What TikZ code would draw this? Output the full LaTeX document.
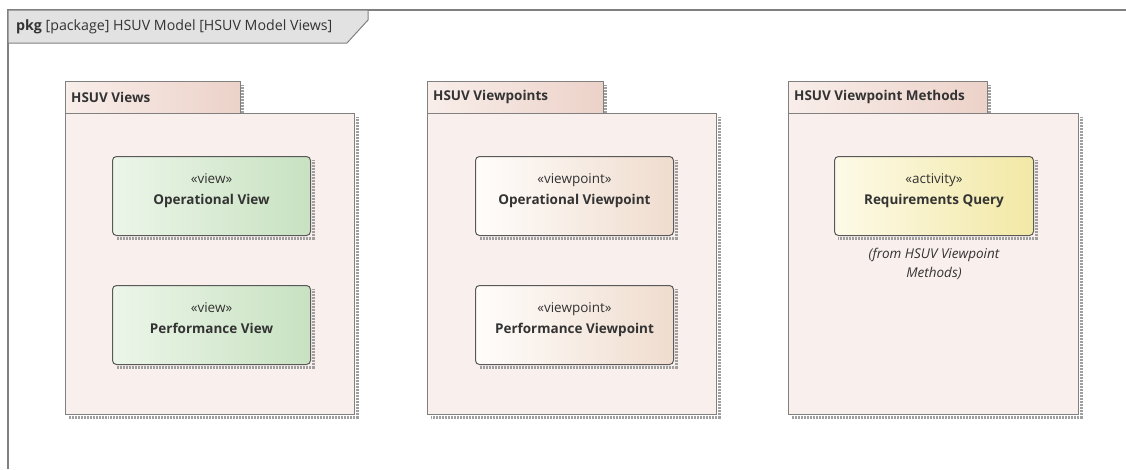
\documentclass[tikz,border=0pt]{standalone}
\usepackage{fontspec}
\setmainfont{Open Sans}
\usepackage{xcolor}
\definecolor{framegray}{RGB}{128,128,128}
\definecolor{tabgray}{RGB}{226,226,226}
\definecolor{pkgfill}{RGB}{249,240,238}
\definecolor{tableft}{RGB}{249,238,234}
\definecolor{tabright}{RGB}{236,210,201}
\definecolor{viewleft}{RGB}{236,245,233}
\definecolor{viewright}{RGB}{200,226,193}
\definecolor{vpleft}{RGB}{255,253,251}
\definecolor{vpright}{RGB}{239,220,206}
\definecolor{actleft}{RGB}{253,250,232}
\definecolor{actright}{RGB}{242,232,165}
\definecolor{inktext}{RGB}{51,51,51}
\usetikzlibrary{positioning}

\begin{document}
\begin{tikzpicture}[x=1pt, y=-1pt,
    font=\fontsize{13.5}{21}\selectfont, text=inktext,
    pkgbody/.style={rectangle, draw=framegray, line width=1pt, fill=pkgfill,
      minimum width=289pt, minimum height=301pt, anchor=north west, inner sep=0pt},
    pkgtab/.style={rectangle, draw=framegray, line width=1pt,
      left color=tableft, right color=tabright, minimum height=32pt,
      anchor=south west, inner sep=0pt, outer sep=0pt},
    pkglabel/.style={anchor=west, font=\fontsize{13.5}{16}\selectfont\bfseries, inner sep=0pt},
    element/.style={rectangle, rounded corners=4pt, draw=black!65, line width=1pt,
      minimum width=198pt, minimum height=79pt, align=center, text depth=13pt,
      anchor=north west},
    view/.style={element, left color=viewleft, right color=viewright},
    viewpt/.style={element, left color=vpleft, right color=vpright},
    activ/.style={element, left color=actleft, right color=actright},
    shadowline/.style={line width=3.5pt, gray!75, dash pattern=on 1pt off 0.5pt}
]
\useasboundingbox (0,0) rectangle (1126,469);

% outer frame
\draw[framegray, line width=1.5pt] (8,469) -- (8,10) -- (1126,10);
\draw[framegray, line width=1pt, fill=tabgray]
  (8,10) -- (368,10) -- (368,20) -- (347,43) -- (8,43) -- cycle;
\node[anchor=west, inner sep=0pt, font=\fontsize{14.2}{17}\selectfont] (title) at (16,27)
  {\textbf{pkg} [package] HSUV Model [HSUV Model Views]};

% packages
\node[pkgbody] (views) at (65,113) {};
\node[pkgbody] (vpts) at (427,113) {};
\node[pkgbody, minimum width=290pt] (meth) at (788,113) {};

\node[pkgtab, minimum width=175pt] (viewstab) at (views.north west) {};
\node[pkgtab, minimum width=176pt] (vptstab) at (vpts.north west) {};
\node[pkgtab, minimum width=199pt] (methtab) at (meth.north west) {};

\node[pkglabel, right=6pt of viewstab.west] {HSUV Views};
\node[pkglabel, right=6pt of vptstab.west] {HSUV Viewpoints};
\node[pkglabel, right=6pt of methtab.west] {HSUV Viewpoint Methods};

% elements
\node[view] (opview) at (112,156) {«view»\\\textbf{Operational View}};
\node[view] (perfview) at (112,285) {«view»\\\textbf{Performance View}};
\node[viewpt] (opvp) at (475,156) {«viewpoint»\\\textbf{Operational Viewpoint}};
\node[viewpt] (perfvp) at (475,285) {«viewpoint»\\\textbf{Performance Viewpoint}};
\node[activ, minimum width=199pt] (reqq) at (834,156) {«activity»\\\textbf{Requirements Query}};
\node[below=9pt of reqq, align=center, font=\fontsize{13.5}{19}\selectfont\itshape]
  (reqfrom) {(from HSUV Viewpoint\\Methods)};

% shadows
\foreach \n in {viewstab, vptstab, methtab}
  \draw[shadowline] ([xshift=2.5pt,yshift=-4pt]\n.north east) -- ([xshift=2.5pt]\n.south east);
\foreach \n in {views, vpts, meth, opview, perfview, opvp, perfvp, reqq}
  \draw[shadowline] ([xshift=2.5pt,yshift=-4pt]\n.north east)
    |- ([xshift=4pt,yshift=-2.5pt]\n.south west);
\end{tikzpicture}
\end{document}
